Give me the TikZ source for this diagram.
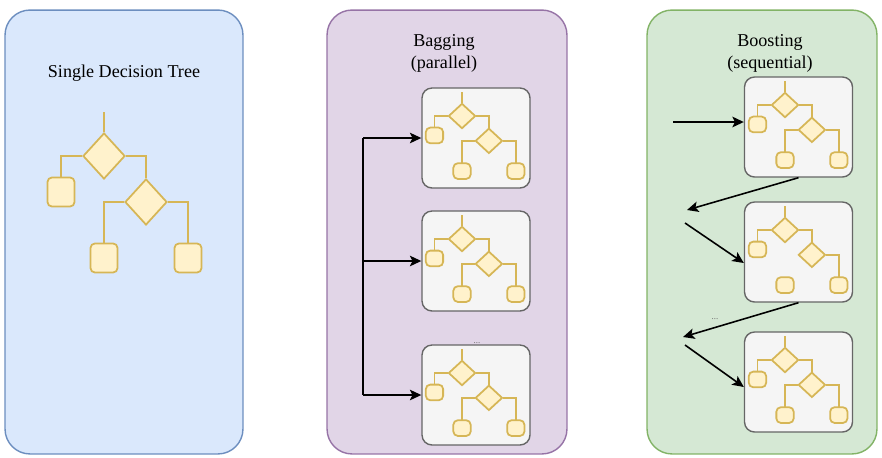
\documentclass[tikz,border=0pt]{standalone}
\usepackage{fontspec}
\setmainfont{Liberation Serif}
\usetikzlibrary{shapes.geometric, arrows.meta}

\definecolor{singlefill}{HTML}{DAE8FC}
\definecolor{singleline}{HTML}{6C8EBF}
\definecolor{bagfill}{HTML}{E1D5E7}
\definecolor{bagline}{HTML}{9673A6}
\definecolor{boostfill}{HTML}{D5E8D4}
\definecolor{boostline}{HTML}{82B366}
\definecolor{boxfill}{HTML}{F5F5F5}
\definecolor{boxline}{HTML}{666666}
\definecolor{treefill}{HTML}{FFF2CC}
\definecolor{treeline}{HTML}{D6B656}

\begin{document}
\begin{tikzpicture}[x=0.02cm, y=-0.02cm,
  every node/.style={font=\fontsize{10.3}{12.5}\selectfont},
  panel/.style={draw, line width=0.8pt, rounded corners=0.5cm, minimum height=8.88cm, inner sep=0pt},
  ensbox/.style={draw=boxline, fill=boxfill, line width=0.8pt, rounded corners=0.2cm, minimum width=2.16cm, minimum height=2cm, inner sep=0pt},
  dnode/.style={diamond, draw=treeline, fill=treefill, line width=1pt, minimum width=0.84cm, minimum height=0.92cm, inner sep=0pt},
  leaf/.style={rectangle, draw=treeline, fill=treefill, line width=1pt, rounded corners=2.5pt, minimum width=0.54cm, minimum height=0.58cm, inner sep=0pt},
  twig/.style={draw=treeline, line width=1pt},
  lowbranch/.style={},
  small/.style={xscale=0.64, yscale=0.54, transform shape},
  arr/.style={-{Stealth[length=6.5pt, width=6pt, inset=1.5pt]}, line width=0.9pt},
  dots/.style={font=\tiny, text=black!60, inner sep=0pt},
  pics/dtree/.style={code={
    \coordinate (-top) at (0,-44);
    \node[dnode] (-d1) at (0,0) {};
    \node[dnode] (-d2) at (42,46) {};
    \node[leaf] (-l1) at (-43,36) {};
    \node[leaf] (-l2) at (0,102) {};
    \node[leaf] (-l3) at (84,102) {};
    \draw[twig] (-top) -- (-d1.north);
    \draw[twig] (-d1.west) -| (-l1.north);
    \draw[twig] (-d1.east) -| (-d2.north);
    \draw[twig, lowbranch] (-d2.west) -| (-l2.north);
    \draw[twig] (-d2.east) -| (-l3.north);
  }}
]
  \useasboundingbox (0,0) rectangle (882,457);

  % panels
  \node[panel, draw=singleline, fill=singlefill, minimum width=4.76cm] (single) at (124,232) {};
  \node[panel, draw=bagline, fill=bagfill, minimum width=4.8cm] (bag) at (447,232) {};
  \node[panel, draw=boostline, fill=boostfill, minimum width=4.6cm] (boost) at (762,232) {};

  \node (singletitle) at (124,73) {Single Decision Tree};
  \node[align=center] (bagtitle) at (444,53) {Bagging\\(parallel)};
  \node[align=center] (boosttitle) at (770,53) {Boosting\\(sequential)};

  % single tree
  \pic (big) at (104,156) {dtree};

  % bagging
  \node[ensbox] (bg1) at (476,138) {};
  \node[ensbox] (bg2) at (476,261) {};
  \node[dots] (bgdots) at (477,343) {...};
  \node[ensbox] (bg3) at (476,395) {};
  \pic[small] (bgt1) at ([xshift=-0.28cm, yshift=0.44cm]bg1.center) {dtree};
  \pic[small] (bgt2) at ([xshift=-0.28cm, yshift=0.44cm]bg2.center) {dtree};
  \pic[small] (bgt3) at ([xshift=-0.28cm, yshift=0.44cm]bg3.center) {dtree};

  \coordinate (bgx) at (363,0);
  \coordinate (bgtop) at (bg1.west -| bgx);
  \coordinate (bgmid) at (bg2.west -| bgx);
  \coordinate (bgbot) at (bg3.west -| bgx);
  \draw[line width=0.9pt] (bgtop) -- (bgbot);
  \draw[arr] (bgtop) -- (bg1.west);
  \draw[arr] (bgmid) -- (bg2.west);
  \draw[arr] (bgbot) -- (bg3.west);

  % boosting
  \node[ensbox] (bs1) at (798.5,127) {};
  \node[ensbox] (bs2) at (798.5,252) {};
  \node[ensbox] (bs3) at (798.5,382) {};
  \pic[small] (bst1) at ([xshift=-0.27cm, yshift=0.44cm]bs1.center) {dtree};
  \pic[small, lowbranch/.style={draw=none}] (bst2) at ([xshift=-0.27cm, yshift=0.44cm]bs2.center) {dtree};
  \pic[small] (bst3) at ([xshift=-0.27cm, yshift=0.44cm]bs3.center) {dtree};

  \coordinate (bsin) at (673,122);
  \coordinate (bsk1) at (687,210);
  \coordinate (bsj1) at (685,223);
  \coordinate (bsk2) at (683,337);
  \coordinate (bsj2) at (685,345);
  \draw[arr, line width=1.3pt] (bsin) -- (bsin -| bs1.west);
  \draw[arr] (bs1.south) -- (bsk1);
  \draw[arr] (bsj1) -- ([yshift=-0.22cm]bs2.west);
  \draw[arr] (bs2.south) -- (bsk2);
  \draw[arr] (bsj2) -- ([yshift=-0.1cm]bs3.west);
  \node[dots] (bsdots) at (715,319) {...};
\end{tikzpicture}
\end{document}
